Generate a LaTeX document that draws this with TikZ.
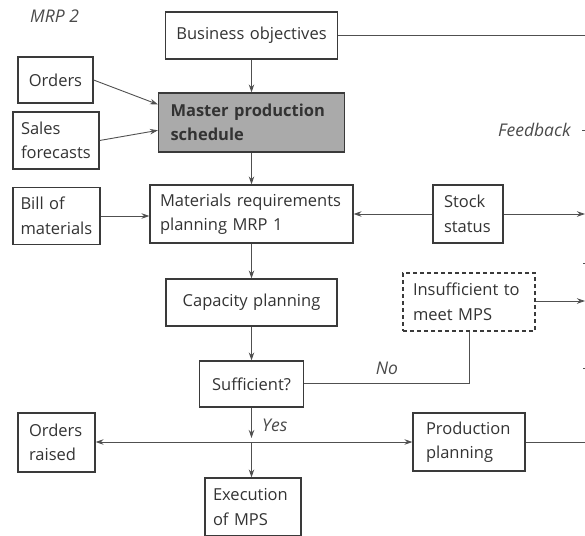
\documentclass[tikz,border=0pt]{standalone}
\usepackage{fontspec}
\setmainfont{Open Sans}
\usetikzlibrary{arrows.meta,calc}
\definecolor{boxc}{HTML}{3A3A3A}
\definecolor{linec}{HTML}{505050}
\definecolor{txt}{HTML}{333333}
\definecolor{labc}{HTML}{4A4A4A}
\definecolor{mpsfill}{HTML}{AAAAAA}
\begin{document}
\begin{tikzpicture}[x=1pt,y=1pt,
  bx/.style={draw=boxc, line width=1.2pt, inner ysep=0pt, text=txt,
             font=\fontsize{16.5}{24.5}\selectfont},
  conn/.style={draw=linec, line width=0.9pt},
  arr/.style={conn, -{Stealth[length=8pt,width=5.5pt]}},
  lbl/.style={font=\fontsize{17.5}{20}\selectfont\itshape, text=labc, inner sep=0pt}]
\useasboundingbox (0,0) rectangle (585,-535);
\clip (0,0) rectangle (585,-535);

% boxes
\node[bx, text width=155pt, inner xsep=8.5pt, minimum height=47pt, align=center] (bo) at (251.5,-35.5) {Business objectives};
\node[bx, text width=59pt, inner xsep=8pt, minimum height=46pt, align=center] (ord) at (55.5,-80) {Orders};
\node[bx, text width=70pt, inner xsep=8pt, minimum height=57pt, align=left] (sf) at (56,-140.5) {Sales\\forecasts};
\node[bx, fill=mpsfill, text width=162pt, inner xsep=12pt, minimum height=59pt, align=left,
      font=\fontsize{16.5}{24.5}\selectfont\bfseries] (mps) at (251.5,-122.5) {Master production\\schedule};
\node[bx, text width=72pt, inner xsep=7.5pt, minimum height=57pt, align=left] (bom) at (56.5,-216) {Bill of\\materials};
\node[bx, text width=183pt, inner xsep=10pt, minimum height=58pt, align=left] (mrp) at (251.5,-214) {Materials requirements\\planning MRP 1};
\node[bx, text width=48pt, inner xsep=11pt, minimum height=58pt, align=left] (stk) at (468,-214) {Stock\\status};
\node[bx, text width=155pt, inner xsep=8pt, minimum height=47pt, align=center] (cap) at (251.5,-302.5) {Capacity planning};
\node[bx, dash pattern=on 4pt off 3pt, text width=112pt, inner xsep=10pt, minimum height=58pt, align=left] (ins) at (469,-302) {Insufficient to\\meet MPS};
\node[bx, text width=88pt, inner xsep=8pt, minimum height=46pt, align=center] (suf) at (251.5,-384) {Sufficient?};
\node[bx, text width=55pt, inner xsep=11pt, minimum height=59pt, align=left] (ordr) at (56.5,-442.5) {Orders\\raised};
\node[bx, text width=86pt, inner xsep=13pt, minimum height=58pt, align=left] (pp) at (469,-442) {Production\\planning};
\node[bx, text width=80pt, inner xsep=8pt, minimum height=58pt, align=left] (exe) at (253,-507) {Execution\\of MPS};

% labels
\node[lbl, anchor=west] (mrp2) at (30,-16) {MRP 2};
\node[lbl, anchor=west] (fb) at (498,-130) {Feedback};
\node[lbl] (no) at (387,-368) {No};
\node[lbl, anchor=west] (yes) at (262,-425) {Yes};

% free ends
\coordinate (r0) at (585,-35);
\coordinate (r1) at (585,-214);
\coordinate (r2) at (585,-301);
\coordinate (r3) at (585,-442);
\coordinate (j) at (251.5,-442);

% connectors
\draw[conn] (bo.east |- r0) -- (r0);
\draw[arr] (bo) -- (mps);
\draw[arr] (ord.east) -- ($(mps.north west)!0.2!(mps.south west)$);
\draw[arr] (sf.east) -- ($(mps.north west)!0.63!(mps.south west)$);
\draw[arr] (mps) -- (mrp);
\draw[arr] (bom.east) -- (bom.east -| mrp.west);
\draw[arr] (stk.west) -- (stk.west -| mrp.east);
\draw[arr] (stk.east) -- (r1);
\draw[arr] (ins.east |- r2) -- (r2);
\draw[arr] (mrp) -- (cap);
\draw[arr] (cap) -- (suf);
\draw[conn] (suf.east |- 0,-383) -- (ins.south |- 0,-383) -- (ins.south);
\draw[arr, shorten >=4pt] (suf.south) -- (j);
\draw[arr] (j) -- (j |- exe.north);
\draw[arr] (j) -- (ordr.east |- j);
\draw[arr] (j) -- (pp.west |- j);
\draw[conn] (pp.east |- r3) -- (r3);

% cropped fragments at the right edge
\draw[conn] (582,-130) -- (585,-130);
\draw[conn] (583,-263) -- (585,-263);
\draw[conn] (583,-368) -- (585,-368);
\end{tikzpicture}
\end{document}
